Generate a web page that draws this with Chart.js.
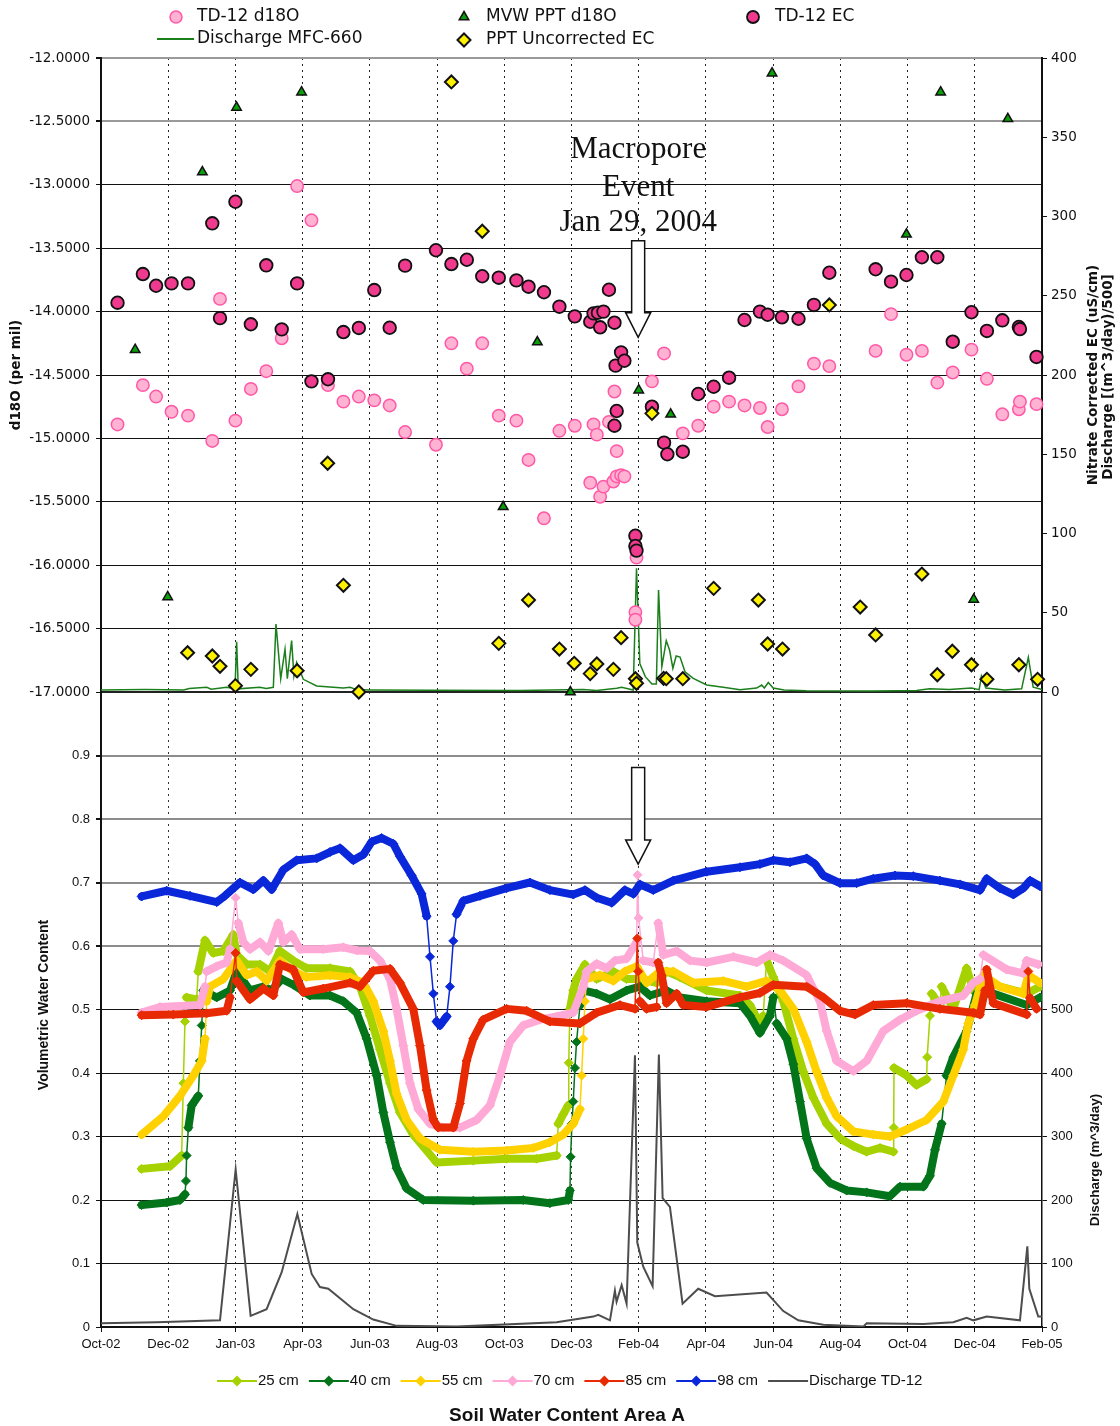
<!DOCTYPE html>
<html>
<head>
<meta charset="utf-8">
<title>Soil Water Content Area A</title>
<script src="https://cdn.jsdelivr.net/npm/chart.js@4.4.1/dist/chart.umd.min.js"></script>
<style>
  html, body { margin: 0; padding: 0; background: #fff; }
  #wrap { position: relative; width: 1120px; height: 1426px; }
  #wrap canvas { position: absolute; left: 0; top: 0; }
</style>
</head>
<body>
<div id="wrap">
  <canvas id="soilChart" width="1120" height="1426"></canvas>
  <canvas id="isoChart" width="1120" height="1426"></canvas>
</div>
<script>
// x values are days counted from 1 Oct 2002 (axis ends 1 Feb 2005 = day 854)
const X_MAX = 854;
const X_STEP = 61;
const xTickLabels = ['Oct-02', 'Dec-02', 'Jan-03', 'Apr-03', 'Jun-03', 'Aug-03', 'Oct-03', 'Dec-03',
  'Feb-04', 'Apr-04', 'Jun-04', 'Aug-04', 'Oct-04', 'Dec-04', 'Feb-05'];
const eventDay = 487.5; // Macropore event, Jan 29 2004

// ---- top panel: isotopes (per mil, left axis) ----
const td12D18O = [[15, -14.89], [38, -14.58], [50, -14.67], [64, -14.79], [79, -14.82], [101, -15.02],
  [108, -13.90], [122, -14.86], [136, -14.61], [150, -14.47], [164, -14.21], [178, -13.01], [191, -13.28],
  [206, -14.58], [220, -14.71], [234, -14.67], [248, -14.70], [262, -14.74], [276, -14.95], [304, -15.05],
  [318, -14.25], [332, -14.45], [346, -14.25], [361, -14.82], [377, -14.86], [388, -15.17], [402, -15.63],
  [416, -14.94], [430, -14.90], [444, -15.35], [447, -14.89], [450, -14.97], [453, -15.46], [456, -15.38],
  [461, -14.87], [465, -15.34], [466, -14.63], [468, -15.30], [468, -15.10], [472, -15.29], [475, -15.30],
  [485, -16.37], [485, -16.43], [486, -15.94], [500, -14.55], [511, -14.33], [528, -14.96], [542, -14.90],
  [556, -14.75], [570, -14.71], [584, -14.74], [598, -14.76], [605, -14.91], [618, -14.77], [633, -14.59],
  [647, -14.41], [661, -14.43], [703, -14.31], [717, -14.02], [731, -14.34], [745, -14.31], [759, -14.56],
  [773, -14.48], [790, -14.30], [804, -14.53], [818, -14.81], [833, -14.77], [834, -14.71], [849, -14.73]];

const mvwPptD18O = [[31, -14.30], [60.5, -16.25], [92, -12.90], [123, -12.39], [182, -12.27], [365, -15.54],
  [396, -14.24], [426, -17.00], [488, -14.62], [517, -14.81], [609, -12.12], [731, -13.39], [762, -12.27],
  [792, -16.27], [823, -12.48]];

// ---- top panel: EC (uS/cm) and discharge/500, right axis ----
const td12EC = [[15, 245.6], [38, 263.7], [50, 256.3], [64, 257.8], [79, 257.8], [101, 295.7], [108, 235.9],
  [122, 309.3], [136, 232.0], [150, 269.2], [164, 228.8], [178, 257.8], [191, 196.0], [206, 197.3],
  [220, 227.1], [234, 229.7], [248, 253.6], [262, 229.8], [276, 269.0], [304, 278.7], [318, 270.0],
  [332, 272.7], [346, 262.3], [361, 261.4], [377, 259.7], [388, 255.7], [402, 252.2], [416, 243.1],
  [430, 237.0], [444, 233.6], [447, 238.9], [451, 239.3], [453, 230.1], [456, 240.0], [461, 253.8],
  [466, 233.0], [467, 205.9], [472, 214.3], [475, 209.0], [466, 168.0], [468, 177.3], [485, 98.6],
  [485, 92.1], [486, 89.2], [500, 180.0], [511, 157.3], [514, 150.0], [528, 151.6], [542, 188.0],
  [556, 192.6], [570, 198.3], [584, 234.7], [598, 240.0], [605, 238.0], [618, 236.4], [633, 235.5],
  [647, 244.2], [661, 264.5], [703, 266.7], [717, 258.9], [731, 263.1], [745, 274.3], [759, 274.3],
  [773, 221.0], [790, 239.6], [804, 227.8], [818, 234.5], [833, 230.3], [834, 229.0], [849, 211.4]];

const pptUncorrectedEC = [[78.6, 24.8], [101, 22.7], [108, 16.2], [122, 4.0], [136, 14.3], [178, 13.4],
  [205.7, 144.3], [220, 67.3], [234, 0], [318, 384.9], [346, 290.7], [361, 30.7], [388, 58.0], [416, 27.1],
  [429.5, 18.1], [444, 11.6], [450, 17.7], [465, 14.3], [472, 34.3], [485, 8.4], [486, 5.5], [500, 175.8],
  [510.6, 8.6], [513, 8.4], [528, 8.4], [556, 65.4], [596.6, 58.0], [605, 30.3], [618.5, 27.1], [661, 244.2],
  [689, 53.6], [703, 36.0], [745, 74.4], [759, 10.9], [772.6, 25.7], [790, 17.2], [804, 8.0], [833, 17.2],
  [850, 8.0]];

const dischargeMFC660 = [[0, 1.3], [40, 1.5], [75, 1.3], [80, 2.2], [96, 3], [100, 1.8], [114, 3], [121.6, 2],
  [123.1, 31.7], [124.6, 2], [144, 3], [150, 2.2], [156.4, 3], [158.8, 42.9], [163.1, 8.4], [167, 27],
  [169.1, 8.4], [173, 32.4], [175.1, 10], [177.6, 18.7], [183.6, 8], [195.7, 3.8], [219.9, 2.5], [226, 3],
  [232, 1.5], [244, 1.3], [300, 1.1], [380, 1.0], [437.7, 1.5], [450, 1.0], [468, 2.3], [472.5, 3],
  [483, 1.3], [486, 78], [489, 18], [494, 9.7], [500, 5], [504, 5], [506, 64.4], [509, 16], [513, 32.4],
  [516, 26.5], [519, 15], [522, 22.7], [525.5, 22], [530, 12.8], [537.5, 8.6], [549.7, 4.4], [564.7, 3],
  [580, 1.5], [595, 2.5], [599.6, 4.4], [602, 2.5], [605.6, 6], [610, 2.5], [620, 1.3], [640, 0.8],
  [700, 0.7], [740, 1.0], [752, 2.0], [770, 1.5], [790, 2.5], [797, 1.5], [799, 10], [803, 2.5],
  [820, 1.3], [835.5, 2], [841.6, 21.9], [846, 3], [854, 1.5]];

// ---- bottom panel: volumetric water content by depth ----
const vwc25 = [[36.9, 0.249], [62.6, 0.253], [73.2, 0.270], [74.7, 0.384], [76.2, 0.481], [77.7, 0.519],
  [86.8, 0.516], [88.3, 0.560], [94.4, 0.609], [101.9, 0.589], [111, 0.592], [120.1, 0.618], [123.1, 0.586],
  [132.2, 0.571], [144.3, 0.571], [153.4, 0.560], [162.4, 0.592], [174.5, 0.577], [186.6, 0.565],
  [207.8, 0.565], [226, 0.560], [235, 0.536], [244.1, 0.490], [253.2, 0.437], [262.3, 0.384], [271.3, 0.338],
  [283.4, 0.303], [304.6, 0.259], [337.9, 0.262], [368.1, 0.265], [395.3, 0.265], [413.5, 0.270],
  [415, 0.320], [419.5, 0.335], [424, 0.349], [424.5, 0.416], [425.6, 0.501], [428.6, 0.530], [431.6, 0.548],
  [439.2, 0.571], [449.8, 0.548], [464.9, 0.560], [477, 0.548], [489.1, 0.548], [504.2, 0.542],
  [513.3, 0.560], [525.4, 0.551], [549.6, 0.530], [579.9, 0.522], [588.9, 0.507], [598, 0.478], [601, 0.490],
  [604, 0.578], [610.1, 0.551], [619.2, 0.513], [628.3, 0.454], [637.4, 0.402], [646.5, 0.361],
  [658.6, 0.320], [670.7, 0.297], [682.8, 0.285], [694.9, 0.276], [707, 0.282], [719.1, 0.276],
  [719.4, 0.314], [719.7, 0.408], [731.2, 0.396], [740.2, 0.381], [749.3, 0.390], [749.8, 0.425],
  [752.3, 0.490], [753.8, 0.525], [761.4, 0.507], [762.9, 0.536], [773.5, 0.501], [785.6, 0.565],
  [791.7, 0.530], [800.7, 0.548], [815.9, 0.536], [840.1, 0.525], [852.2, 0.536]];

const vwc40 = [[36.9, 0.192], [59.6, 0.196], [71.7, 0.200], [76.2, 0.209], [77.1, 0.230], [77.7, 0.270],
  [79.3, 0.314], [82.3, 0.349], [88.3, 0.364], [89.8, 0.419], [91.4, 0.475], [92.9, 0.530], [105, 0.519],
  [117.1, 0.530], [123.1, 0.560], [135.2, 0.530], [147.3, 0.536], [154.9, 0.530], [164, 0.548],
  [174.5, 0.539], [189.7, 0.522], [207.8, 0.522], [219.9, 0.513], [232, 0.495], [241.1, 0.454],
  [250.2, 0.396], [256.2, 0.338], [262.3, 0.291], [268.3, 0.250], [277.4, 0.218], [292.5, 0.200],
  [337.9, 0.199], [383.2, 0.200], [407.4, 0.195], [424.1, 0.200], [425.6, 0.215], [426.2, 0.268],
  [427.4, 0.320], [428.6, 0.355], [430.1, 0.408], [431.6, 0.449], [434.7, 0.507], [437.7, 0.530],
  [449.8, 0.525], [461.9, 0.516], [477, 0.530], [489.1, 0.536], [498.2, 0.522], [513.3, 0.530],
  [525.4, 0.519], [549.6, 0.513], [579.9, 0.510], [589, 0.490], [598, 0.463], [607.1, 0.490],
  [610.2, 0.519], [613.2, 0.478], [622.3, 0.454], [628.3, 0.414], [634.4, 0.355], [640.4, 0.297],
  [649.5, 0.250], [661.6, 0.227], [676.7, 0.215], [694.9, 0.212], [716, 0.206], [725.1, 0.221],
  [746.3, 0.221], [752.3, 0.238], [756.9, 0.279], [762.9, 0.320], [767.4, 0.396], [773.5, 0.425],
  [785.6, 0.466], [794.7, 0.525], [809.8, 0.525], [840.1, 0.507], [852.2, 0.519]];

const vwc55 = [[36.9, 0.303], [56.6, 0.332], [71.7, 0.364], [83.8, 0.396], [91.4, 0.419], [94.4, 0.454],
  [95.9, 0.513], [98.9, 0.536], [111, 0.548], [123.1, 0.577], [132.2, 0.554], [141.3, 0.560], [150.3, 0.545],
  [162.4, 0.577], [174.5, 0.560], [186.6, 0.551], [207.8, 0.554], [226, 0.551], [238.1, 0.542],
  [247.1, 0.513], [256.2, 0.466], [262.3, 0.419], [268.3, 0.367], [277.4, 0.326], [289.5, 0.297],
  [307.6, 0.279], [337.9, 0.276], [368.1, 0.278], [392.3, 0.282], [407.4, 0.291], [419.5, 0.303],
  [428.6, 0.320], [434.7, 0.343], [436.2, 0.396], [437.7, 0.454], [439.2, 0.513], [440.7, 0.548],
  [452.8, 0.554], [464.9, 0.545], [475.5, 0.560], [486.1, 0.568], [495.2, 0.542], [507.3, 0.560],
  [519.4, 0.560], [537.5, 0.542], [564.7, 0.545], [585.9, 0.536], [604, 0.545], [616.2, 0.530],
  [628.3, 0.501], [640.4, 0.449], [649.5, 0.402], [658.6, 0.361], [667.6, 0.332], [682.8, 0.308],
  [700.9, 0.303], [716, 0.300], [731.2, 0.311], [749.3, 0.326], [764.4, 0.355], [773.5, 0.396],
  [782.6, 0.437], [787.1, 0.478], [793.2, 0.507], [800.7, 0.554], [815.9, 0.536], [837, 0.525],
  [841.6, 0.554], [852.2, 0.542]];

const vwc70 = [[36.9, 0.495], [53.5, 0.504], [89.8, 0.507], [94.4, 0.536], [95.9, 0.560], [105, 0.568],
  [114, 0.574], [117.1, 0.595], [122.2, 0.676], [124.6, 0.636], [129.2, 0.606], [135.2, 0.595],
  [144.3, 0.606], [151.9, 0.592], [160.9, 0.636], [165.5, 0.606], [173, 0.618], [180.6, 0.595],
  [201.8, 0.595], [219.9, 0.598], [232, 0.593], [244.1, 0.592], [253.2, 0.577], [262.3, 0.548],
  [268.3, 0.501], [274.4, 0.443], [280.4, 0.384], [288, 0.343], [298.6, 0.320], [310.7, 0.314],
  [325.8, 0.314], [340.9, 0.326], [353, 0.349], [362.1, 0.396], [371.1, 0.449], [383.2, 0.475],
  [398.4, 0.484], [413.5, 0.489], [428.6, 0.495], [437.7, 0.536], [440.7, 0.560], [449.8, 0.572],
  [458.9, 0.565], [466.4, 0.577], [477, 0.580], [486.1, 0.606], [487, 0.712], [487.9, 0.644],
  [492.1, 0.577], [501.2, 0.574], [505.7, 0.636], [510.3, 0.586], [522.4, 0.592], [534.5, 0.577],
  [549.6, 0.574], [573.8, 0.583], [595, 0.574], [607.1, 0.586], [619.2, 0.577], [640.4, 0.554],
  [652.5, 0.513], [658.6, 0.466], [667.6, 0.419], [682.8, 0.403], [694.9, 0.419], [710, 0.466],
  [725.1, 0.484], [740.2, 0.498], [761.4, 0.513], [782.6, 0.522], [791.7, 0.542], [797.7, 0.548],
  [800.7, 0.586], [821.9, 0.563], [837, 0.557], [840.1, 0.577], [850.6, 0.571]];

const vwc85 = [[36.9, 0.491], [65.6, 0.492], [95.9, 0.494], [114, 0.498], [117.1, 0.519], [122.2, 0.589],
  [123.1, 0.545], [135.2, 0.516], [147.3, 0.533], [156.4, 0.522], [162.4, 0.571], [174.5, 0.563],
  [183.6, 0.527], [201.8, 0.533], [226, 0.542], [235, 0.536], [247.1, 0.561], [262.3, 0.564],
  [271.3, 0.542], [283.4, 0.501], [289.5, 0.443], [295.5, 0.373], [301.6, 0.326], [306.1, 0.314],
  [319.7, 0.314], [325.8, 0.352], [331.8, 0.419], [337.9, 0.454], [346.9, 0.484], [368.1, 0.501],
  [386.3, 0.498], [407.4, 0.481], [434.7, 0.478], [449.8, 0.495], [471, 0.507], [484.6, 0.501],
  [486.7, 0.612], [487.6, 0.560], [489.1, 0.513], [495.2, 0.501], [504.2, 0.504], [505.7, 0.574],
  [508.8, 0.554], [513.3, 0.510], [522.4, 0.525], [528.4, 0.507], [549.6, 0.504], [579.9, 0.519],
  [598, 0.526], [610.2, 0.539], [640.4, 0.536], [655.5, 0.519], [670.7, 0.498], [684.3, 0.492],
  [700.9, 0.507], [731.2, 0.510], [761.4, 0.501], [791.7, 0.495], [797.7, 0.492], [802.2, 0.530],
  [803.8, 0.563], [809.8, 0.510], [840.1, 0.492], [841.6, 0.560], [843.1, 0.518], [849.1, 0.501]];

const vwc98 = [[36.9, 0.678], [59.6, 0.687], [80.8, 0.679], [105, 0.669], [112.5, 0.679], [126.1, 0.700],
  [138.2, 0.689], [147.3, 0.703], [154.9, 0.689], [165.5, 0.720], [177.6, 0.735], [195.7, 0.738],
  [207.8, 0.748], [216.9, 0.754], [229, 0.735], [238.1, 0.744], [245.6, 0.764], [254.7, 0.770],
  [265.3, 0.761], [271.3, 0.741], [281.9, 0.711], [291, 0.682], [295.5, 0.647], [298.6, 0.583],
  [301.6, 0.525], [304.6, 0.481], [307.6, 0.475], [313.7, 0.489], [316.7, 0.536], [319.7, 0.608],
  [322.7, 0.650], [328.8, 0.671], [343.9, 0.679], [368.1, 0.691], [389.3, 0.700], [407.4, 0.688],
  [428.6, 0.681], [439.2, 0.688], [449.8, 0.676], [463.4, 0.668], [475.5, 0.688], [483.1, 0.682],
  [489.1, 0.697], [501.2, 0.688], [519.4, 0.703], [549.6, 0.717], [579.9, 0.724], [598, 0.729],
  [610.2, 0.735], [625.3, 0.732], [640.4, 0.738], [648, 0.729], [655.5, 0.711], [670.7, 0.699],
  [685.8, 0.699], [700.9, 0.706], [720.6, 0.711], [737.2, 0.710], [761.4, 0.703], [779.6, 0.697],
  [797.7, 0.688], [803.8, 0.706], [815.9, 0.691], [828, 0.681], [837.1, 0.691], [843.1, 0.703],
  [852.2, 0.694]];

// discharge TD-12, m^3/day (right axis of bottom panel)
const dischargeTD12 = [[0, 5.8], [50.5, 7.6], [108, 10.5], [122.2, 248], [135.8, 17.5], [150.3, 28],
  [164, 86.4], [178.2, 178], [191.2, 83.5], [198.7, 63], [206.3, 60.2], [229, 28], [247.1, 11.7],
  [268.3, 1.8], [322.8, 0.6], [413.5, 7.6], [446.8, 16.4], [451.3, 19.3], [461.9, 10.5], [466.4, 57.2],
  [467.9, 39.7], [472.5, 66], [477, 36.8], [484.6, 428], [486.7, 133], [492.1, 95], [500.6, 64.3],
  [506.3, 429], [509.7, 203], [516.3, 189], [527.8, 36.8], [542, 60.2], [557.2, 48.5], [604, 54.3],
  [619.2, 25.1], [632.8, 10.5], [655.5, 3.5], [691.8, 0.6], [694.9, 5.8], [746.3, 4.7], [773.5, 7.6],
  [785.6, 14.6], [791.7, 10.5], [803.8, 16.4], [834, 10.5], [840.7, 127], [842.5, 60], [850.6, 16.4],
  [854, 16.4]];

const toXY = pts => pts.map(([x, y]) => ({ x, y }));

// ═══ shared layout ═══
const PAGE_W = 1120, PAGE_H = 1426;
const PLOT_LEFT = 101, PLOT_RIGHT = 1042;
const TOP_PLOT_TOP = 58, SPLIT_Y = 692, BOTTOM_PLOT_BOTTOM = 1327;
const INK = '#111';
const CLEAR = 'rgba(0,0,0,0)';
const VERDANA = '"DejaVu Sans", Verdana, sans-serif';
const ARIAL = '"Liberation Sans", Arial, sans-serif';

const isEdgeTick = c => c.tick && (c.tick.value === 0 || c.tick.value === X_MAX);

function rotatedText(ctx, text, x, y, font) {
  ctx.save();
  ctx.translate(x, y);
  ctx.rotate(-Math.PI / 2);
  ctx.font = font;
  ctx.textAlign = 'center';
  ctx.textBaseline = 'middle';
  ctx.fillStyle = INK;
  ctx.fillText(text, 0, 0);
  ctx.restore();
}

function drawDownArrow(ctx, cx, yTop, yNeck, yTip) {
  ctx.save();
  ctx.beginPath();
  ctx.moveTo(cx - 6.5, yTop);
  ctx.lineTo(cx + 6.5, yTop);
  ctx.lineTo(cx + 6.5, yNeck);
  ctx.lineTo(cx + 12.5, yNeck);
  ctx.lineTo(cx, yTip);
  ctx.lineTo(cx - 12.5, yNeck);
  ctx.lineTo(cx - 6.5, yNeck);
  ctx.closePath();
  ctx.fillStyle = '#fff';
  ctx.fill();
  ctx.lineWidth = 1.5;
  ctx.strokeStyle = INK;
  ctx.stroke();
  ctx.restore();
}

// ═══ top panel ═══
const isoLegend = [
  { label: 'TD-12 d18O', mx: 176, my: 17, tx: 197, r: 6 },
  { label: 'MVW PPT d18O', mx: 464, my: 17, tx: 486, r: 5.5 },
  { label: 'TD-12 EC', mx: 753, my: 17, tx: 775, r: 6 },
  { label: 'Discharge MFC-660', line: true, mx: 175, my: 39, tx: 197 },
  { label: 'PPT Uncorrected EC', mx: 464, my: 40, tx: 486, r: 6.5 }
];
const eventNote = [['Macropore', 342], ['Event', 318], ['Jan 29, 2004', 296]];

const isoDecor = {
  id: 'isoDecor',
  afterDraw(chart) {
    const { ctx, scales: { x, y1 } } = chart;
    ctx.save();

    // legend
    ctx.font = '17px ' + VERDANA;
    ctx.textAlign = 'left';
    ctx.textBaseline = 'middle';
    isoLegend.forEach(item => {
      const ds = chart.data.datasets.find(d => d.label === item.label);
      if (item.line) {
        ctx.strokeStyle = ds.borderColor;
        ctx.lineWidth = 2;
        ctx.beginPath();
        ctx.moveTo(item.mx - 18, item.my);
        ctx.lineTo(item.mx + 19, item.my);
        ctx.stroke();
      } else {
        ctx.fillStyle = ds.pointBackgroundColor;
        ctx.strokeStyle = ds.pointBorderColor;
        ctx.lineWidth = ds.pointBorderWidth;
        Chart.helpers.drawPoint(ctx, { pointStyle: ds.pointStyle, radius: item.r, rotation: 0, borderWidth: ds.pointBorderWidth }, item.mx, item.my);
      }
      ctx.fillStyle = INK;
      ctx.fillText(item.label, item.tx, item.my);
    });

    // axis titles
    rotatedText(ctx, 'd18O (per mil)', 16, 375, 'bold 13.5px ' + VERDANA);
    rotatedText(ctx, 'Nitrate Corrected EC (uS/cm)', 1093, 375, 'bold 13.5px ' + VERDANA);
    rotatedText(ctx, 'Discharge [(m^3/day)/500]', 1108, 377, 'bold 13.5px ' + VERDANA);

    // event annotation
    const cx = x.getPixelForValue(eventDay);
    ctx.font = '31px "Liberation Serif", "Times New Roman", serif';
    ctx.textAlign = 'center';
    ctx.textBaseline = 'middle';
    ctx.fillStyle = INK;
    eventNote.forEach(([txt, v]) => ctx.fillText(txt, cx, y1.getPixelForValue(v)));
    drawDownArrow(ctx, cx, y1.getPixelForValue(284.7), y1.getPixelForValue(239.3), y1.getPixelForValue(223.8));

    ctx.restore();
  }
};

new Chart(document.getElementById('isoChart'), {
  type: 'scatter',
  data: {
    datasets: [
      {
        label: 'PPT Uncorrected EC', data: toXY(pptUncorrectedEC), yAxisID: 'y1', order: 1, clip: false,
        pointStyle: 'rectRot', pointRadius: 6.5, pointBorderWidth: 2,
        pointBackgroundColor: '#FFF200', pointBorderColor: INK, backgroundColor: '#FFF200', borderColor: INK
      },
      {
        label: 'TD-12 EC', data: toXY(td12EC), yAxisID: 'y1', order: 2, clip: false,
        pointStyle: 'circle', pointRadius: 6.3, pointBorderWidth: 1.8,
        pointBackgroundColor: '#F03A8D', pointBorderColor: INK, backgroundColor: '#F03A8D', borderColor: INK
      },
      {
        label: 'MVW PPT d18O', data: toXY(mvwPptD18O), yAxisID: 'y', order: 3, clip: false,
        pointStyle: 'triangle', pointRadius: 5.5, pointBorderWidth: 1.5,
        pointBackgroundColor: '#0AA00A', pointBorderColor: INK, backgroundColor: '#0AA00A', borderColor: INK
      },
      {
        label: 'TD-12 d18O', data: toXY(td12D18O), yAxisID: 'y', order: 4, clip: false,
        pointStyle: 'circle', pointRadius: 6.2, pointBorderWidth: 1.5,
        pointBackgroundColor: '#FFB2D2', pointBorderColor: '#FF58A6', backgroundColor: '#FFB2D2', borderColor: '#FF58A6'
      },
      {
        label: 'Discharge MFC-660', data: toXY(dischargeMFC660), yAxisID: 'y1', order: 5,
        showLine: true, pointRadius: 0, borderWidth: 1.5, borderColor: '#1B7F1B', backgroundColor: '#1B7F1B',
        tension: 0
      }
    ]
  },
  options: {
    responsive: false,
    animation: false,
    events: [],
    devicePixelRatio: 1,
    layout: { padding: { top: TOP_PLOT_TOP, bottom: PAGE_H - SPLIT_Y, left: 0, right: 0 } },
    plugins: { legend: { display: false }, tooltip: { enabled: false } },
    scales: {
      x: {
        type: 'linear', position: 'bottom', min: 0, max: X_MAX,
        afterFit: s => { s.height = 0; },
        ticks: { stepSize: X_STEP, display: false },
        grid: { color: c => isEdgeTick(c) ? CLEAR : '#222', lineWidth: 1, drawTicks: false },
        border: { color: '#222', width: 2, dash: [2, 4] }
      },
      y: {
        type: 'linear', position: 'left', min: -17, max: -12,
        afterFit: s => { s.width = PLOT_LEFT; },
        ticks: {
          stepSize: 0.5, padding: 6, color: INK,
          font: { family: VERDANA, size: 13.5 },
          callback: v => v.toFixed(4)
        },
        grid: {
          color: c => (c.tick && c.tick.value >= -12.5) ? '#9a9a9a' : INK,
          lineWidth: c => (c.tick && c.tick.value >= -12.5) ? 2 : 1,
          tickLength: 5, tickColor: INK
        },
        border: { color: INK, width: 2 }
      },
      y1: {
        type: 'linear', position: 'right', min: 0, max: 400,
        afterFit: s => { s.width = PAGE_W - PLOT_RIGHT; },
        ticks: { stepSize: 50, padding: 4, color: INK, font: { family: VERDANA, size: 13.5 } },
        grid: { drawOnChartArea: false, tickLength: 5, tickColor: INK },
        border: { color: INK, width: 2 }
      }
    }
  },
  plugins: [isoDecor]
});

// ═══ bottom panel ═══
const soilSeries = [
  { label: '25 cm', data: vwc25, color: '#A5D200' },
  { label: '40 cm', data: vwc40, color: '#03741A' },
  { label: '55 cm', data: vwc55, color: '#FFD100' },
  { label: '70 cm', data: vwc70, color: '#FFA9D6' },
  { label: '85 cm', data: vwc85, color: '#E82A04' },
  { label: '98 cm', data: vwc98, color: '#0A28D9' }
];
const dischargeColor = '#4d4d4d';

// steep stretches show as a thin line between separated markers
const isSteep = c => Math.abs(c.p1.parsed.y - c.p0.parsed.y) / Math.max(c.p1.parsed.x - c.p0.parsed.x, 0.05) > 0.012;

const soilDatasets = soilSeries.map((s, i) => ({
  label: s.label,
  data: toXY(s.data),
  yAxisID: 'y',
  order: soilSeries.length - i,
  showLine: true,
  borderColor: s.color,
  backgroundColor: s.color,
  borderWidth: 8,
  borderCapStyle: 'round',
  borderJoinStyle: 'round',
  segment: { borderWidth: c => isSteep(c) ? 1.5 : 8 },
  pointStyle: 'rectRot',
  pointRadius: 4.5,
  pointBorderWidth: 1,
  pointBackgroundColor: s.color,
  pointBorderColor: s.color,
  tension: 0
}));
soilDatasets.push({
  label: 'Discharge TD-12', data: toXY(dischargeTD12), yAxisID: 'y1', order: 10,
  showLine: true, pointRadius: 0, borderWidth: 2, borderColor: dischargeColor, backgroundColor: dischargeColor,
  tension: 0
});

const soilDecor = {
  id: 'soilDecor',
  afterDraw(chart) {
    const { ctx, scales: { x, y } } = chart;
    ctx.save();

    // legend row
    ctx.font = '15px ' + ARIAL;
    ctx.textAlign = 'left';
    ctx.textBaseline = 'middle';
    const ly = 1381;
    let lx = 217;
    chart.data.datasets.forEach(ds => {
      ctx.strokeStyle = ds.borderColor;
      ctx.lineWidth = 2;
      ctx.beginPath();
      ctx.moveTo(lx, ly);
      ctx.lineTo(lx + 40, ly);
      ctx.stroke();
      if (ds.pointRadius) {
        ctx.fillStyle = ds.borderColor;
        Chart.helpers.drawPoint(ctx, { pointStyle: 'rectRot', radius: 5.5, rotation: 0, borderWidth: 0 }, lx + 20, ly);
      }
      ctx.fillStyle = INK;
      ctx.fillText(ds.label, lx + 41, ly);
      lx += 41 + ctx.measureText(ds.label).width + 10;
    });

    // chart title and axis titles
    ctx.font = 'bold 19px ' + ARIAL;
    ctx.textAlign = 'center';
    ctx.fillText('Soil Water Content Area A', 567, 1416);
    rotatedText(ctx, 'Volumetric Water Content', 44, 1005, 'bold 14px ' + ARIAL);
    rotatedText(ctx, 'Discharge (m^3/day)', 1095, 1160, 'bold 13.5px ' + ARIAL);

    // event arrow
    drawDownArrow(ctx, x.getPixelForValue(eventDay), y.getPixelForValue(0.881), y.getPixelForValue(0.767), y.getPixelForValue(0.729));
    ctx.restore();
  }
};

new Chart(document.getElementById('soilChart'), {
  type: 'scatter',
  data: { datasets: soilDatasets },
  options: {
    responsive: false,
    animation: false,
    events: [],
    devicePixelRatio: 1,
    layout: { padding: { top: SPLIT_Y, bottom: 0, left: 0, right: 0 } },
    plugins: { legend: { display: false }, tooltip: { enabled: false } },
    scales: {
      x: {
        type: 'linear', position: 'bottom', min: 0, max: X_MAX,
        afterFit: s => { s.height = PAGE_H - BOTTOM_PLOT_BOTTOM; },
        ticks: {
          stepSize: X_STEP, padding: 5, color: INK, maxRotation: 0, autoSkip: false,
          font: { family: ARIAL, size: 13 },
          callback: v => xTickLabels[Math.round(v / X_STEP)]
        },
        grid: { color: c => isEdgeTick(c) ? CLEAR : '#333', lineWidth: 1, tickLength: 5, tickColor: INK, tickBorderDash: [] },
        border: { color: INK, width: 2, dash: [2, 4] }
      },
      y: {
        type: 'linear', position: 'left', min: 0, max: 1,
        afterFit: s => { s.width = PLOT_LEFT; },
        ticks: {
          stepSize: 0.1, padding: 6, color: INK,
          font: { family: ARIAL, size: 13 },
          callback: v => v >= 1 ? '' : String(Math.round(v * 10) / 10)
        },
        grid: {
          color: c => (c.tick && c.tick.value >= 0.55) ? '#8c8c8c' : INK,
          lineWidth: c => (c.tick && c.tick.value >= 0.55) ? 2 : 1,
          tickLength: 5,
          tickColor: c => (c.tick && c.tick.value >= 1) ? CLEAR : INK
        },
        border: { color: INK, width: 2 }
      },
      y1: {
        type: 'linear', position: 'right', min: 0, max: 1000,
        afterFit: s => { s.width = PAGE_W - PLOT_RIGHT; },
        ticks: {
          stepSize: 100, padding: 4, color: INK,
          font: { family: ARIAL, size: 13 },
          callback: v => v <= 500 ? String(v) : ''
        },
        grid: {
          drawOnChartArea: false, tickLength: 5,
          tickColor: c => (c.tick && c.tick.value <= 500) ? INK : CLEAR
        },
        border: { color: INK, width: 1.5 }
      }
    }
  },
  plugins: [soilDecor]
});
</script>
</body>
</html>
